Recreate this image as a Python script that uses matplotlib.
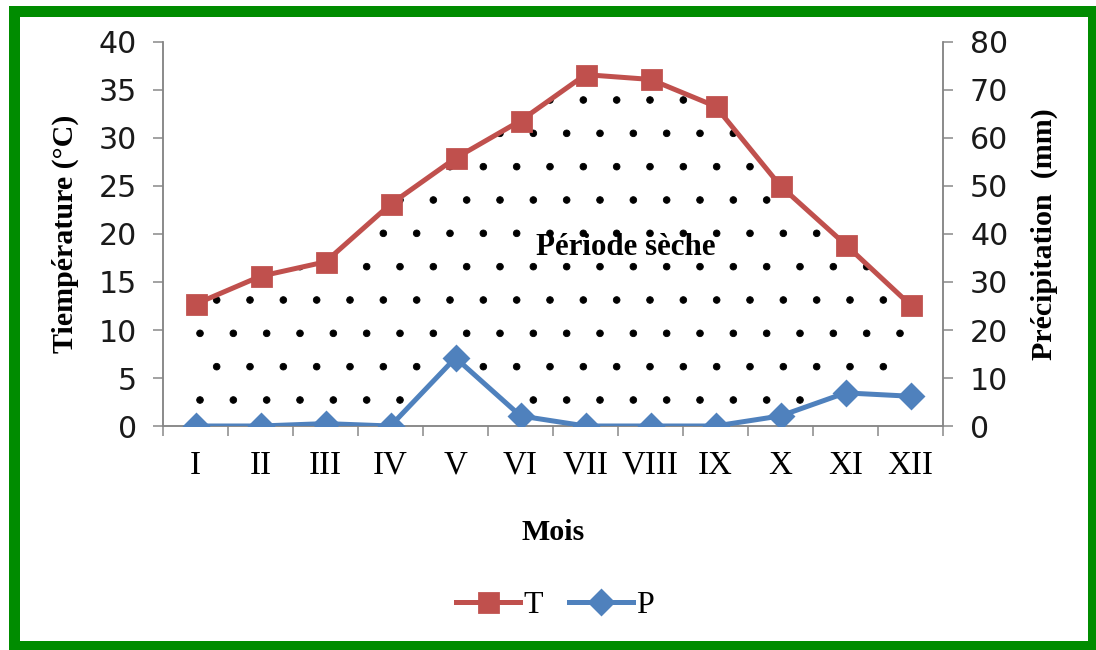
import matplotlib
matplotlib.use("Agg")
import matplotlib.pyplot as plt
from matplotlib.patches import Rectangle
import numpy as np

# --- Données ---
mois = ["I", "II", "III", "IV", "V", "VI", "VII", "VIII", "IX", "X", "XI", "XII"]
temperature = [12.7, 15.6, 17.1, 23.1, 27.9, 31.8, 36.6, 36.1, 33.3, 25.0, 18.9, 12.6]
precipitation = [0.0, 0.0, 0.5, 0.0, 14.2, 2.1, 0.0, 0.0, 0.0, 2.1, 6.9, 6.2]

DPI = 200


def pt(px):
    # pixels -> points pour un rendu à DPI
    return px * 72 / DPI


plt.rcParams["hatch.linewidth"] = 0.3
plt.rcParams["hatch.color"] = "black"

serif = ["Liberation Serif", "DejaVu Serif"]
grey = "#868686"
red = "#C0504D"
blue = "#4F81BD"

fig = plt.figure(figsize=(1096 / DPI, 650 / DPI), dpi=DPI)
ax = fig.add_axes([163 / 1096, 224 / 650, 780 / 1096, 384 / 650])
ax2 = ax.twinx()

x = np.arange(len(mois))
p_half = np.array(precipitation) / 2

# période sèche : zone pointillée entre T et P/2
ax.fill_between(x, temperature, p_half, facecolor="none", edgecolor="black",
                hatch=".", linewidth=0, zorder=1)

lt, = ax.plot(x, temperature, color=red, lw=pt(5), marker="s", ms=pt(19),
              zorder=3, label="T")
lp, = ax2.plot(x, precipitation, color=blue, lw=pt(5), marker="D", ms=pt(17),
               zorder=3, label="P")

ax.set_xlim(-0.5, len(mois) - 0.5)
ax.set_ylim(0, 40)
ax2.set_ylim(0, 80)
ax.set_yticks(np.arange(0, 41, 5))
ax2.set_yticks(np.arange(0, 81, 10))

ax.set_xticks(np.arange(-0.5, len(mois), 1))
ax.set_xticklabels([])
ax.set_xticks(x, minor=True)
ax.set_xticklabels(mois, minor=True, fontfamily=serif, fontsize=pt(33))
ax.tick_params(axis="x", which="minor", length=0, pad=pt(24))
ax.tick_params(axis="x", which="major", length=pt(10), width=pt(1.5),
               color=grey, direction="out")

ax.tick_params(axis="y", length=pt(10), width=pt(1.5), color=grey,
               labelsize=pt(30), pad=pt(16), labelcolor="#1a1a1a")
ax2.tick_params(axis="y", length=pt(10), width=pt(1.5), color=grey,
                labelsize=pt(30), pad=pt(17), labelcolor="#1a1a1a")
for a in (ax, ax2):
    a.spines["top"].set_visible(False)
    for s in ("left", "right", "bottom"):
        a.spines[s].set_color(grey)
        a.spines[s].set_linewidth(pt(1.5))

ax.set_xlabel("Mois", fontfamily=serif, fontweight="bold", fontsize=pt(30),
              labelpad=pt(38))
ax.set_ylabel("Tiempérature (°C)", fontfamily=serif, fontweight="bold",
              fontsize=pt(30), labelpad=pt(20))
ax2.set_ylabel("Précipitation  (mm)", fontfamily=serif, fontweight="bold",
               fontsize=pt(30), labelpad=pt(22))

ax.text(6.62, 18.6, "Période sèche", fontfamily=serif, fontweight="bold",
        fontsize=pt(31), ha="center", va="center", zorder=4)

fig.legend([lt, lp], ["T", "P"], loc="center", bbox_to_anchor=(555 / 1096, 1 - 605 / 650),
           ncol=2, frameon=False, prop={"family": serif, "size": pt(32)},
           handlelength=2.0, handletextpad=0.1, columnspacing=0.8)

# cadre vert
fig.patches.append(Rectangle((14 / 1096, 1 - 646 / 650), (1093 - 14) / 1096, (646 - 11) / 650,
                             transform=fig.transFigure, fill=False,
                             edgecolor="#008C00", linewidth=pt(11)))

fig.savefig("out.png", dpi=DPI)
